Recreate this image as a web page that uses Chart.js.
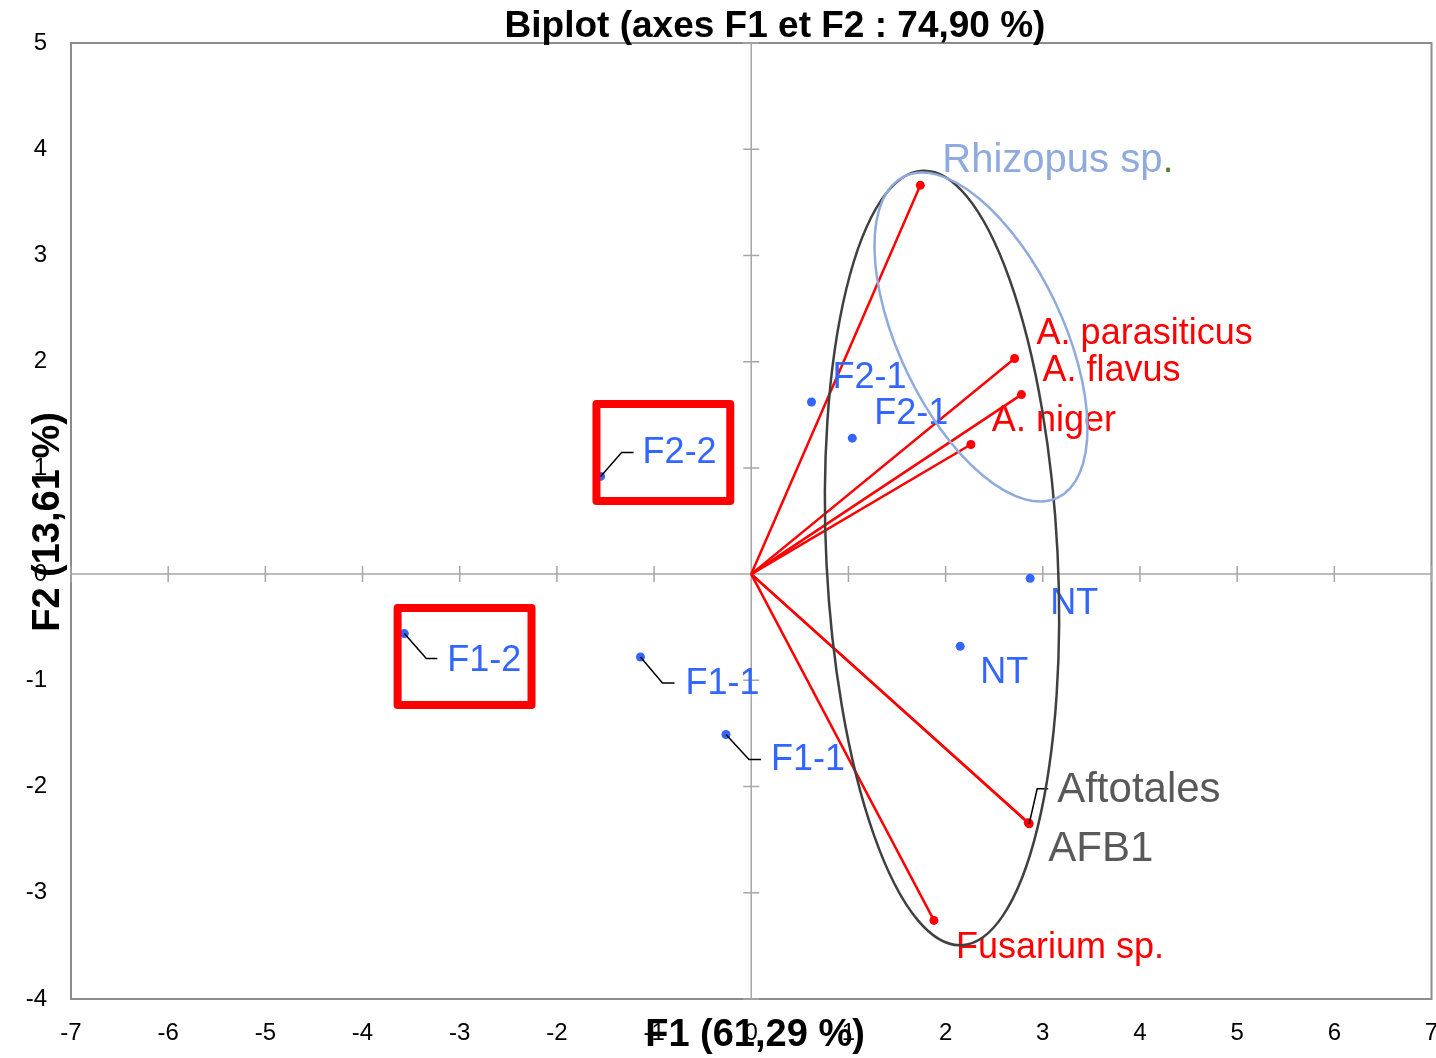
<!DOCTYPE html>
<html lang="fr">
<head>
<meta charset="UTF-8">
<title>Biplot (axes F1 et F2)</title>
<script src="https://cdn.jsdelivr.net/npm/chart.js"></script>
<style>
html,body{margin:0;padding:0;background:#fff}
#wrap{width:1436px;height:1058px;position:relative}
</style>
</head>
<body>
<div id="wrap"><canvas id="c"></canvas></div>
<script>
// observations (blue points)
const obsNames=['F2-2','F1-2','F1-1','F1-1','F2-1','F2-1','NT','NT'];
const obsX=[-1.55,-3.57,-1.14,-0.26,0.62,1.04,2.87,2.15];
const obsY=[0.92,-0.56,-0.78,-1.51,1.62,1.28,-0.04,-0.68];
// variables (red vectors)
const varNames=['Rhizopus sp','A. parasiticus','A. flavus','A. niger','Aftotales','AFB1','Fusarium sp.'];
const varX=[1.74,2.71,2.78,2.26,2.86,2.85,1.88];
const varY=[3.66,2.03,1.69,1.22,-2.35,-2.34,-3.26];
// axes
const xTickVals=[-7,-6,-5,-4,-3,-2,-1,0,1,2,3,4,5,6,7];
const yTickVals=[-4,-3,-2,-1,0,1,2,3,4,5];

const FONT='"Liberation Sans", Arial, sans-serif';
const BLUE='#3366ff', RED='#ff0000', GREY='#595959';

// label placement, px offsets from the point: [dx, dy, leader elbow dx, dy, leader end dx]
const obsLabelPos=[[42,-23,21,-24,33],[43,27,22,25,33],[45,27,22,26,34],[45,26,23,25,35],[21,-24],[22,-24],[20,26],[20,27]];
const varLabelPos=[[22,-24],[22,-24],[21,-24],[21,-23],[28,-33,8,-35,19],[20,27],[22,28]];
const varLabelColor=['#8faadc',RED,RED,RED,GREY,GREY,RED];
const varLabelSize=[40,36,36,36,42,42,36];

// ellipses and highlight boxes, in chart units
const ellipses=[
  {cx:1.963,cy:0.152,rx:1.19,ry:3.65,rot:-2.9,color:'#404040'},
  {cx:2.364,cy:2.232,rx:0.843,ry:1.676,rot:-25.5,color:'#8faadc'}
];
const boxes=[
  {x0:-1.593,x1:-0.216,y0:0.688,y1:1.601},
  {x0:-3.639,x1:-2.261,y0:-1.232,y1:-0.319}
];

const datasets=[{
  data:obsX.map((x,i)=>({x,y:obsY[i]})),
  pointRadius:4.5,pointBackgroundColor:BLUE,pointBorderWidth:0,showLine:false
}];
varX.forEach((x,i)=>datasets.push({
  data:[{x:0,y:0},{x,y:varY[i]}],
  showLine:true,borderColor:RED,borderWidth:2.5,
  pointRadius:[0,4.5],pointBackgroundColor:RED,pointBorderWidth:0
}));

function text(ctx,str,x,y,color,size,bold,align){
  ctx.fillStyle=color;
  ctx.font=(bold?'bold ':'')+size+'px '+FONT;
  ctx.textAlign=align||'left';
  ctx.textBaseline='middle';
  ctx.fillText(str,x,y);
}

function leader(ctx,px,py,p){
  if(p.length<5) return;
  ctx.strokeStyle='#000';ctx.lineWidth=1.5;
  ctx.beginPath();
  ctx.moveTo(px,py);ctx.lineTo(px+p[2],py+p[3]);ctx.lineTo(px+p[4],py+p[3]);
  ctx.stroke();
}

const biplot={
  id:'biplot',
  beforeDatasetsDraw(chart){
    const {ctx,chartArea:a,scales:{x:sx,y:sy}}=chart;
    ctx.save();
    ctx.strokeStyle='#8c8c8c';ctx.lineWidth=2;
    ctx.strokeRect(a.left,a.top,a.right-a.left,a.bottom-a.top);
    const ox=sx.getPixelForValue(0),oy=sy.getPixelForValue(0);
    ctx.strokeStyle='#a6a6a6';ctx.lineWidth=1.5;
    ctx.beginPath();
    ctx.moveTo(a.left,oy);ctx.lineTo(a.right,oy);
    ctx.moveTo(ox,a.top);ctx.lineTo(ox,a.bottom);
    xTickVals.forEach(v=>{const p=sx.getPixelForValue(v);ctx.moveTo(p,oy-8);ctx.lineTo(p,oy+8);});
    yTickVals.forEach(v=>{const p=sy.getPixelForValue(v);ctx.moveTo(ox-8,p);ctx.lineTo(ox+8,p);});
    ctx.stroke();
    ctx.restore();
  },
  afterDatasetsDraw(chart){
    const {ctx,scales:{x:sx,y:sy}}=chart;
    ctx.save();
    obsNames.forEach((n,i)=>{
      const px=sx.getPixelForValue(obsX[i]),py=sy.getPixelForValue(obsY[i]),p=obsLabelPos[i];
      leader(ctx,px,py,p);
      text(ctx,n,px+p[0],py+p[1],BLUE,36);
    });
    varNames.forEach((n,i)=>{
      const px=sx.getPixelForValue(varX[i]),py=sy.getPixelForValue(varY[i]),p=varLabelPos[i];
      leader(ctx,px,py,p);
      text(ctx,n,px+p[0],py+p[1],varLabelColor[i],varLabelSize[i]);
      if(i===0){
        const w=ctx.measureText(n).width;
        text(ctx,'.',px+p[0]+w,py+p[1],'#548235',varLabelSize[i]);
      }
    });
    ctx.lineWidth=2.5;
    ellipses.forEach(e=>{
      const cx=sx.getPixelForValue(e.cx),cy=sy.getPixelForValue(e.cy);
      const rx=Math.abs(sx.getPixelForValue(e.cx+e.rx)-cx),ry=Math.abs(sy.getPixelForValue(e.cy+e.ry)-cy);
      ctx.strokeStyle=e.color;
      ctx.beginPath();ctx.ellipse(cx,cy,rx,ry,e.rot*Math.PI/180,0,2*Math.PI);ctx.stroke();
    });
    ctx.strokeStyle=RED;ctx.lineWidth=8;ctx.lineJoin='round';
    boxes.forEach(b=>{
      const x0=sx.getPixelForValue(b.x0),x1=sx.getPixelForValue(b.x1);
      const y0=sy.getPixelForValue(b.y1),y1=sy.getPixelForValue(b.y0);
      ctx.strokeRect(x0,y0,x1-x0,y1-y0);
    });
    ctx.restore();
  },
  afterDraw(chart){
    const {ctx}=chart;
    ctx.save();
    text(ctx,'Biplot (axes F1 et F2 : 74,90 %)',775,27,'#000',37,true,'center');
    text(ctx,'F1 (61,29 %)',755,1036,'#000',38,true,'center');
    ctx.translate(49,522);ctx.rotate(-Math.PI/2);
    text(ctx,'F2 (13,61 %)',0,0,'#000',38,true,'center');
    ctx.restore();
  }
};

const tickFont={family:FONT,size:24};
new Chart(document.getElementById('c'),{
  type:'scatter',
  data:{datasets},
  options:{
    responsive:true,maintainAspectRatio:false,animation:false,
    layout:{padding:{top:43,right:3,left:0,bottom:0}},
    plugins:{legend:{display:false},tooltip:{enabled:false},title:{display:false}},
    scales:{
      x:{type:'linear',position:'bottom',min:-7,max:7,
        grid:{display:false,drawTicks:false},border:{display:false},
        afterBuildTicks(s){s.ticks=xTickVals.map(v=>({value:v}));},
        ticks:{color:'#000',font:tickFont,padding:20,maxRotation:0,autoSkip:false},
        afterFit(s){s.height=59;s.paddingLeft=0;s.paddingRight=0;}},
      y:{type:'linear',min:-4,max:5,
        grid:{display:false,drawTicks:false},border:{display:false},
        afterBuildTicks(s){s.ticks=yTickVals.map(v=>({value:v}));},
        ticks:{color:'#000',font:tickFont,padding:24,autoSkip:false},
        afterFit(s){s.width=71;s.paddingTop=0;s.paddingBottom=0;}}
    }
  },
  plugins:[biplot]
});
</script>
</body>
</html>
